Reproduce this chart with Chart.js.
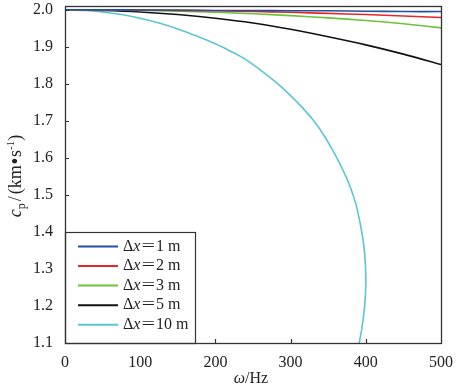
<!DOCTYPE html>
<html>
<head>
<meta charset="utf-8">
<script src="https://cdn.jsdelivr.net/npm/chart.js@4"></script>
<style>
  html, body { margin: 0; padding: 0; background: #fff; }
  #wrap { width: 459px; height: 389px; }
</style>
</head>
<body>
<div id="wrap"><canvas id="dispChart" width="459" height="389"></canvas></div>
<script>
// Tần số (Hz) cho các đường gần thẳng
var omega = [0, 50, 100, 150, 200, 250, 300, 350, 400, 450, 500];
// Vận tốc pha (km/s)
var cpDx1 = [2.000, 2.000, 1.999, 1.999, 1.998, 1.998, 1.997, 1.997, 1.996, 1.995, 1.995];
var cpDx2 = [2.000, 2.000, 1.999, 1.998, 1.997, 1.995, 1.993, 1.990, 1.987, 1.983, 1.979];
var cpDx3 = [2.000, 1.999, 1.998, 1.996, 1.993, 1.989, 1.984, 1.978, 1.971, 1.962, 1.951];
var cpDx5 = [2.000, 1.998, 1.994, 1.987, 1.977, 1.964, 1.947, 1.927, 1.905, 1.880, 1.852];
// Đường Δx=10 m quay ngược lại nên cần cặp (ω, c)
var omegaDx10 = [0, 25, 50, 75, 100, 125, 150, 175, 200, 220, 240, 260, 280, 300, 315, 330, 343, 355, 365, 374, 381, 387, 392, 395, 397.5, 399.2, 400, 399.8, 398.5, 396.5, 394, 391.2];
var cpDx10 = [2.000, 1.998, 1.994, 1.987, 1.977, 1.964, 1.948, 1.929, 1.908, 1.888, 1.866, 1.837, 1.805, 1.768, 1.737, 1.702, 1.665, 1.624, 1.586, 1.548, 1.512, 1.474, 1.428, 1.395, 1.360, 1.320, 1.280, 1.245, 1.200, 1.165, 1.130, 1.100];

var seriesLabels = ['1', '2', '3', '5', '10'];
var xTicks = [0, 100, 200, 300, 400, 500];
var yTicks = [1.1, 1.2, 1.3, 1.4, 1.5, 1.6, 1.7, 1.8, 1.9, 2.0];

function toPoints(xs, ys) {
    return xs.map(function (x, i) { return { x: x, y: ys[i] }; });
}

var serif = '"Liberation Serif", "DejaVu Serif", serif';

// Vẽ khung, vạch chia hướng vào trong, tiêu đề trục và chú giải
var framePlugin = {
    id: 'frame',
    afterDraw: function (chart) {
        var ctx = chart.ctx;
        var a = chart.chartArea;
        var xs = chart.scales.x, ys = chart.scales.y;
        ctx.save();
        ctx.strokeStyle = '#333';
        ctx.lineWidth = 1.2;
        // vạch chia
        ctx.beginPath();
        xTicks.forEach(function (v) {
            if (v === 0 || v === 500) return;
            var px = Math.round(xs.getPixelForValue(v)) + 0.5;
            ctx.moveTo(px, a.bottom);
            ctx.lineTo(px, a.bottom - 4);
        });
        yTicks.forEach(function (v) {
            if (v === 1.1) return;
            var py = Math.round(ys.getPixelForValue(v)) + 0.5;
            ctx.moveTo(a.left, py);
            ctx.lineTo(a.left + 4, py);
        });
        ctx.stroke();

        // chú giải
        var lx = a.left, ly = ys.getPixelForValue(1.4);
        var lw = 130;
        ctx.fillStyle = '#fff';
        ctx.fillRect(lx, ly, lw, a.bottom - ly);
        ctx.strokeStyle = '#333';
        ctx.lineWidth = 1.2;
        ctx.strokeRect(lx + 0.5, Math.round(ly) + 0.5, lw, a.bottom - Math.round(ly));
        chart.data.datasets.forEach(function (ds, i) {
            var yy = ly + 14.5 + i * 19.6;
            ctx.strokeStyle = ds.borderColor;
            ctx.lineWidth = 2;
            ctx.beginPath();
            ctx.moveTo(lx + 13, yy);
            ctx.lineTo(lx + 53, yy);
            ctx.stroke();
            ctx.fillStyle = '#222';
            ctx.textBaseline = 'middle';
            ctx.textAlign = 'left';
            var tx = lx + 58;
            ctx.font = '16px ' + serif;
            ctx.fillText('Δ', tx, yy);
            tx += ctx.measureText('Δ').width;
            ctx.font = 'italic 16px ' + serif;
            ctx.fillText('x', tx, yy);
            tx += ctx.measureText('x').width + 1;
            ctx.font = '16px ' + serif;
            ctx.save();
            ctx.scale(1.5, 1);
            ctx.fillText('=', tx / 1.5, yy);
            ctx.restore();
            tx += ctx.measureText('=').width * 1.5 + 1;
            ctx.fillText(seriesLabels[i] + ' m', tx, yy);
        });

        // khung ngoài
        ctx.strokeStyle = '#333';
        ctx.lineWidth = 1.3;
        ctx.strokeRect(a.left + 0.5, a.top + 0.5, a.right - a.left, a.bottom - a.top);

        // tiêu đề trục x
        ctx.fillStyle = '#222';
        ctx.textBaseline = 'alphabetic';
        ctx.textAlign = 'left';
        var parts = [['italic 16px ' + serif, 'ω', 0], ['16px ' + serif, '/Hz', 0]];
        var w = 0;
        parts.forEach(function (p) { ctx.font = p[0]; w += ctx.measureText(p[1]).width; });
        var x0 = 251 - w / 2;
        parts.forEach(function (p) {
            ctx.font = p[0];
            ctx.fillText(p[1], x0, 383);
            x0 += ctx.measureText(p[1]).width;
        });

        // tiêu đề trục y (chữ, cỡ, độ lệch dọc, khoảng cách thêm)
        ctx.translate(21, 176);
        ctx.rotate(-Math.PI / 2);
        var yparts = [
            ['italic 18px ' + serif, 'c', 0, 0],
            ['12px ' + serif, 'p', 4, 2],
            ['18px ' + serif, '/', 0, 2],
            ['18px ' + serif, '(km', 0, 1],
            ['bold 18px ' + serif, '•', 0, 1],
            ['18px ' + serif, 's', 0, 0],
            ['11px ' + serif, '-1', -7, 0],
            ['18px ' + serif, ')', 0, 0]
        ];
        w = 0;
        yparts.forEach(function (p) { ctx.font = p[0]; w += ctx.measureText(p[1]).width + p[3]; });
        x0 = -w / 2;
        yparts.forEach(function (p) {
            ctx.font = p[0];
            ctx.fillText(p[1], x0, p[2]);
            x0 += ctx.measureText(p[1]).width + p[3];
        });
        ctx.restore();
    }
};

var colors = ['#2250a0', '#e8272b', '#6cc43a', '#111111', '#5cc6d2'];
var curves = [
    toPoints(omega, cpDx1),
    toPoints(omega, cpDx2),
    toPoints(omega, cpDx3),
    toPoints(omega, cpDx5),
    toPoints(omegaDx10, cpDx10)
];

var ctx = document.getElementById('dispChart').getContext('2d');
var dispChart = new Chart(ctx, {
    type: 'scatter',
    data: {
        datasets: curves.map(function (pts, i) {
            return {
                label: 'Δx=' + seriesLabels[i] + ' m',
                data: pts,
                showLine: true,
                borderColor: colors[i],
                backgroundColor: colors[i],
                borderWidth: 1.6,
                pointRadius: 0,
                tension: 0.3
            };
        })
    },
    options: {
        responsive: false,
        animation: false,
        layout: { padding: { left: 0, right: 18, top: 6, bottom: 0 } },
        plugins: {
            legend: { display: false },
            tooltip: { enabled: false }
        },
        scales: {
            x: {
                type: 'linear',
                min: 0,
                max: 500,
                afterBuildTicks: function (s) { s.ticks = xTicks.map(function (v) { return { value: v }; }); },
                afterFit: function (s) { s.height = 46; s.paddingLeft = 0; s.paddingRight = 0; },
                grid: { display: false },
                border: { display: false },
                ticks: {
                    color: '#222',
                    font: { family: serif, size: 16 },
                    padding: 2,
                    maxRotation: 0
                }
            },
            y: {
                type: 'linear',
                min: 1.1,
                max: 2.01,
                afterBuildTicks: function (s) { s.ticks = yTicks.map(function (v) { return { value: v }; }); },
                afterFit: function (s) { s.width = 65; s.paddingTop = 0; s.paddingBottom = 0; },
                grid: { display: false },
                border: { display: false },
                ticks: {
                    color: '#222',
                    font: { family: serif, size: 16 },
                    padding: 4,
                    callback: function (v) { return v.toFixed(1); }
                }
            }
        }
    },
    plugins: [framePlugin]
});
</script>
</body>
</html>
